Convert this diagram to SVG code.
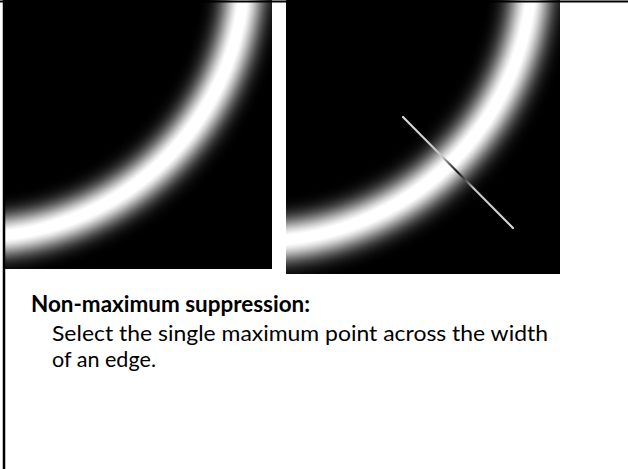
<svg xmlns="http://www.w3.org/2000/svg" xmlns:xlink="http://www.w3.org/1999/xlink" width="628" height="469" viewBox="0 0 628 469">
  <style>
    .title { font-family: Lato, "Open Sans", "Liberation Sans", sans-serif; font-size: 22px; font-weight: bold; fill: #000; }
    .body { font-family: Lato, "Open Sans", "Liberation Sans", sans-serif; font-size: 22px; fill: #000; }
    .frame { stroke: #000; fill: none; }
  </style>
  <defs>
    <clipPath id="imgClip">
      <rect x="0" y="0" width="269" height="269"/>
    </clipPath>
    <filter id="soft" x="-30%" y="-30%" width="160%" height="160%" color-interpolation-filters="sRGB">
      <feGaussianBlur stdDeviation="13"/>
      <feComponentTransfer>
        <feFuncA type="linear" slope="1.7"/>
      </feComponentTransfer>
    </filter>
    <g id="edgeImage">
      <rect x="0" y="0" width="269" height="269" fill="#000"/>
      <g clip-path="url(#imgClip)">
        <circle cx="-26" cy="-31" r="268" fill="none" stroke="#fff" stroke-width="22" filter="url(#soft)"/>
      </g>
    </g>
    <linearGradient id="probe" gradientUnits="userSpaceOnUse" x1="403" y1="117" x2="513" y2="228">
      <stop offset="0" stop-color="#d8d8d8"/>
      <stop offset="0.36" stop-color="#c4c4c4"/>
      <stop offset="0.43" stop-color="#555"/>
      <stop offset="0.5" stop-color="#1a1a1a"/>
      <stop offset="0.57" stop-color="#555"/>
      <stop offset="0.64" stop-color="#c4c4c4"/>
      <stop offset="1" stop-color="#d8d8d8"/>
    </linearGradient>
  </defs>

  <rect x="0" y="0" width="628" height="469" fill="#fff"/>

  <g id="image-left">
    <use xlink:href="#edgeImage" href="#edgeImage" x="3" y="0"/>
  </g>

  <g id="image-right">
    <use xlink:href="#edgeImage" href="#edgeImage" transform="translate(286,0) scale(1.0186)"/>
  </g>

  <g id="connectors">
    <line x1="403" y1="117" x2="513" y2="228" stroke="url(#probe)" stroke-width="2.2" stroke-linecap="round"/>
  </g>

  <g id="frame">
    <line class="frame" x1="0" y1="1.5" x2="628" y2="1.5" stroke-width="2"/>
    <line class="frame" x1="4" y1="0" x2="4" y2="469" stroke-width="2.5"/>
  </g>

  <g id="caption">
    <text class="title" x="31" y="312" textLength="279" lengthAdjust="spacingAndGlyphs">Non-maximum suppression:</text>
    <text class="body" x="52" y="341" textLength="496" lengthAdjust="spacingAndGlyphs">Select the single maximum point across the width</text>
    <text class="body" x="52" y="367" textLength="104" lengthAdjust="spacingAndGlyphs">of an edge.</text>
  </g>
</svg>
